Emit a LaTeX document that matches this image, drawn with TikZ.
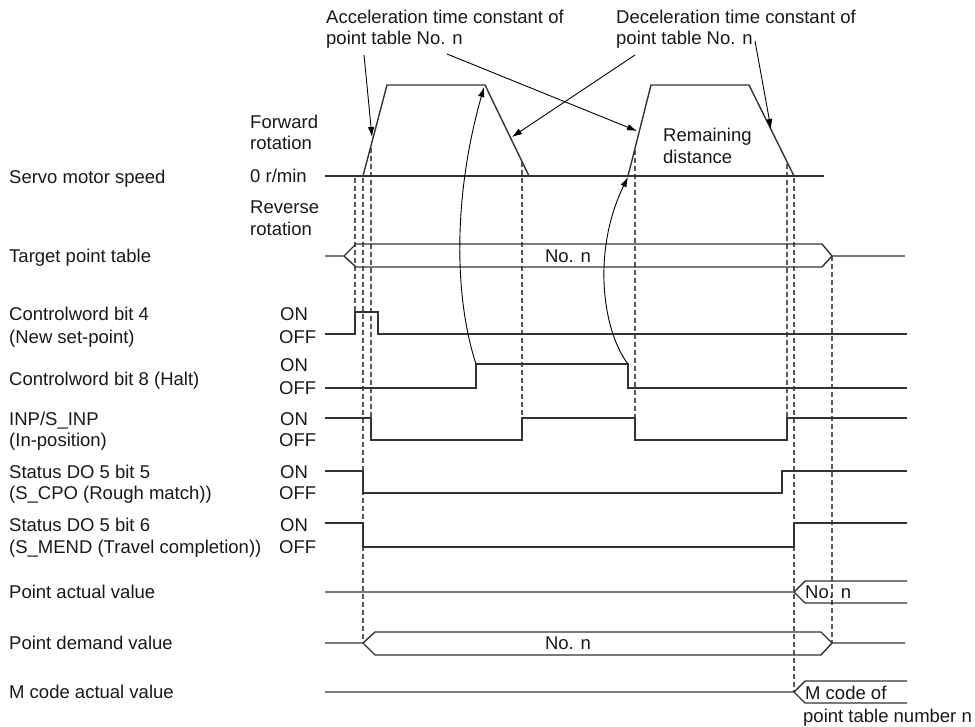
\documentclass[tikz,border=0pt]{standalone}
\usepackage{fontspec}
\setmainfont{Liberation Sans}
\usetikzlibrary{arrows.meta}
\begin{document}
\begin{tikzpicture}[x=1pt,y=-1pt,
  sig/.style={line width=1.4pt, draw=black!80, line join=miter},
  guide/.style={dash pattern=on 5pt off 3pt, line width=1.1pt, draw=black!65},
  note/.style={line width=0.9pt, draw=black, -{Latex[length=10pt,width=6.5pt]}},
  lbl/.style={anchor=base west, inner sep=0pt, font=\fontsize{18.5}{22}\selectfont, text=black!90},
  clbl/.style={anchor=base, inner sep=0pt, font=\fontsize{18.5}{22}\selectfont, text=black!90},
]
\useasboundingbox (0,0) rectangle (975,727);
\fill[white] (0,0) rectangle (975,727);

% ---------- key coordinates ----------
\coordinate (s1a) at (363,176);
\coordinate (s1b) at (387,85);
\coordinate (s1c) at (485,85);
\coordinate (s1d) at (529,176);
\coordinate (s2a) at (628,176);
\coordinate (s2b) at (651,85);
\coordinate (s2c) at (749,85);
\coordinate (s2d) at (794,176);
\coordinate (haltup) at (476,364);
\coordinate (haltdn) at (628,364);

% ---------- dashed guide lines ----------
\draw[guide] (355,178) -- (355,312);
\draw[guide] (363,178) -- (363,643);
\draw[guide] (371,148) -- (371,418);
\draw[guide] (522,162) -- (522,418);
\draw[guide] (635,150) -- (635,418);
\draw[guide] (787,164) -- (787,418);
\draw[guide] (794,178) -- (794,692);
\draw[guide] (832,256) -- (832,643);

% ---------- servo motor speed ----------
\draw[sig] (325,176) -- (824,176);
\draw[sig] (s1a) -- (s1b) -- (s1c) -- (s1d);
\draw[sig] (s2a) -- (s2b) -- (s2c) -- (s2d);

% ---------- target point table ----------
\draw[sig] (325,256) -- (344,256) -- (356,244) -- (822,244) -- (832,256) -- (905,256);
\draw[sig] (344,256) -- (356,267) -- (822,267) -- (832,256);

% ---------- on/off signals ----------
\draw[sig] (325,334) -- (355,334) -- (355,312) -- (378,312) -- (378,334) -- (907,334);
\draw[sig] (325,388) -- (476,388) -- (haltup) -- (haltdn) -- (628,388) -- (907,388);
\draw[sig] (325,418) -- (371,418) -- (371,440) -- (522,440) -- (522,418) -- (635,418) -- (635,440) -- (787,440) -- (787,418) -- (907,418);
\draw[sig] (325,471) -- (363,471) -- (363,493) -- (782,493) -- (782,471) -- (907,471);
\draw[sig] (325,523) -- (363,523) -- (363,547) -- (794,547) -- (794,523) -- (907,523);

% ---------- point actual value ----------
\draw[sig] (325,592) -- (794,592) -- (805,581) -- (907,581);
\draw[sig] (794,592) -- (805,603) -- (907,603);

% ---------- point demand value ----------
\draw[sig] (325,643) -- (363,643) -- (375,632) -- (821,632) -- (832,643) -- (905,643);
\draw[sig] (363,643) -- (375,655) -- (821,655) -- (832,643);

% ---------- M code actual value ----------
\draw[sig] (325,692) -- (794,692) -- (805,681) -- (907,681);
\draw[sig] (794,692) -- (805,703) -- (907,703);

% ---------- annotation texts ----------
\node[lbl] (acc1) at (326,23.5) {Acceleration time constant of};
\node[lbl] (acc2) at (326,44.5) {point table No. n};
\node[lbl] (dec1) at (616,23.5) {Deceleration time constant of};
\node[lbl] (dec2) at (616,44.5) {point table No. n};
\node[lbl] (fwd1) at (250,128.5) {Forward};
\node[lbl] (fwd2) at (250,149.5) {rotation};
\node[lbl] (zero) at (250,182.5) {0 r/min};
\node[lbl] (rev1) at (250,213.5) {Reverse};
\node[lbl] (rev2) at (250,235.5) {rotation};
\node[lbl] (rem1) at (663,141.5) {Remaining};
\node[lbl] (rem2) at (663,163.5) {distance};

% ---------- annotation arrows ----------
\coordinate (a1s) at (364,55);  \coordinate (a1e) at (372,137);
\coordinate (a2s) at (447,54);  \coordinate (a2e) at (637,131);
\coordinate (a3s) at (635,55);  \coordinate (a3e) at (512,137);
\coordinate (a4s) at (755,41);  \coordinate (a4e) at (771,129);
\draw[note] (a1s) -- (a1e);
\draw[note] (a2s) -- (a2e);
\draw[note] (a3s) -- (a3e);
\draw[note] (a4s) -- (a4e);
\draw[note] (haltup) .. controls (455,300) and (452,200) .. (484,87);
\draw[note] (haltdn) .. controls (602,330) and (592,250) .. (628,177);

% ---------- signal names ----------
\node[lbl] (servo) at (9,183.5) {Servo motor speed};
\node[lbl] (target) at (9,262.5) {Target point table};
\node[lbl] (cw4a) at (9,320.5) {Controlword bit 4};
\node[lbl] (cw4b) at (9,343.5) {(New set-point)};
\node[lbl] (cw8) at (9,385.5) {Controlword bit 8 (Halt)};
\node[lbl] (inpa) at (9,425.5) {INP/S\_INP};
\node[lbl] (inpb) at (9,446.5) {(In-position)};
\node[lbl] (cpoa) at (9,478.5) {Status DO 5 bit 5};
\node[lbl] (cpob) at (9,499.5) {(S\_CPO (Rough match))};
\node[lbl] (menda) at (9,531.5) {Status DO 5 bit 6};
\node[lbl] (mendb) at (9,553.5) {(S\_MEND (Travel completion))};
\node[lbl] (pav) at (9,598.5) {Point actual value};
\node[lbl] (pdv) at (9,649.5) {Point demand value};
\node[lbl] (mcv) at (9,698.5) {M code actual value};

% ---------- ON / OFF ----------
\node[lbl] (on1) at (280,320.5) {ON};
\node[lbl] (off1) at (279,343.5) {OFF};
\node[lbl] (on2) at (280,371.5) {ON};
\node[lbl] (off2) at (279,394.5) {OFF};
\node[lbl] (on3) at (280,425.5) {ON};
\node[lbl] (off3) at (279,446.5) {OFF};
\node[lbl] (on4) at (280,478.5) {ON};
\node[lbl] (off4) at (279,499.5) {OFF};
\node[lbl] (on5) at (280,531.5) {ON};
\node[lbl] (off5) at (279,553.5) {OFF};

% ---------- bus values ----------
\node[clbl] (tgtval) at (568,262.5) {No. n};
\node[clbl] (pdval) at (568,649.5) {No. n};
\node[lbl] (paval) at (805,598.5) {No. n};
\node[lbl] (mc1) at (805,699) {M code of};
\node[lbl] (mc2) at (803,722) {point table number n};
\end{tikzpicture}
\end{document}
